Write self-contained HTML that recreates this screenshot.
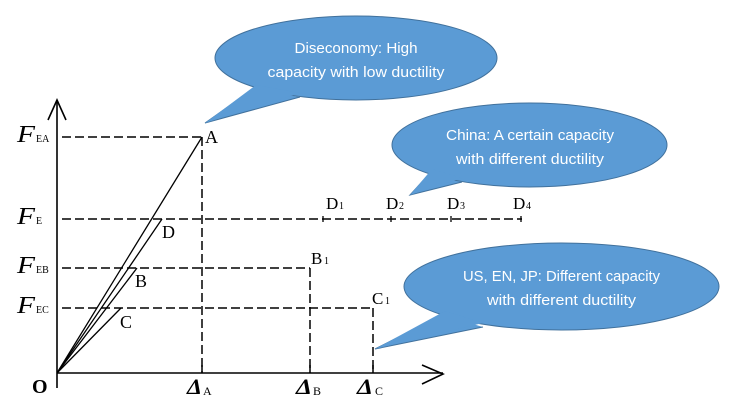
<!DOCTYPE html>
<html><head><meta charset="utf-8"><style>
html,body{margin:0;padding:0;background:#fff;}
svg{display:block;}
.s{font-family:"Liberation Serif",serif;fill:#000;}
.b{font-family:"Liberation Sans","Noto Sans CJK SC",sans-serif;fill:#fff;font-size:15px;}
</style></head><body>
<svg width="729" height="410" viewBox="0 0 729 410" xmlns="http://www.w3.org/2000/svg">
<rect width="729" height="410" fill="#fff"/>
<!-- axes -->
<g stroke="#000" stroke-width="1.6" fill="none">
<line x1="57" y1="100" x2="57" y2="388"/>
<line x1="57" y1="373" x2="443" y2="373"/>
<polyline points="48,120 57,100 66,120"/>
<polyline points="422,365 443,374 422,384"/>
</g>
<!-- dashed -->
<g stroke="#000" stroke-width="1.5" fill="none" stroke-dasharray="9,4">
<line x1="62" y1="137" x2="202" y2="137"/>
<line x1="202" y1="137" x2="202" y2="373"/>
<line x1="62" y1="219" x2="522" y2="219"/>
<line x1="62" y1="268" x2="310" y2="268"/>
<line x1="310" y1="268" x2="310" y2="373"/>
<line x1="62" y1="308" x2="373" y2="308"/>
<line x1="373" y1="308" x2="373" y2="373"/>
</g>
<g stroke="#000" stroke-width="1.3">
<line x1="323" y1="216" x2="323" y2="222"/>
<line x1="391" y1="216" x2="391" y2="222"/>
<line x1="451" y1="216" x2="451" y2="222"/>
<line x1="521" y1="216" x2="521" y2="222"/>
</g>
<g stroke="#000" stroke-width="1.5">
<line x1="202" y1="365" x2="202" y2="373"/>
<line x1="310" y1="365" x2="310" y2="373"/>
<line x1="373" y1="365" x2="373" y2="373"/>
</g>
<!-- rays -->
<g stroke="#000" stroke-width="1.3" fill="none">
<line x1="57" y1="373" x2="202" y2="137"/>
<line x1="57" y1="373" x2="162" y2="219"/>
<line x1="57" y1="373" x2="137" y2="268"/>
<line x1="57" y1="373" x2="121" y2="308"/>
</g>
<!-- labels -->
<g class="s">
<text x="205" y="143" font-size="18">A</text>
<text x="162" y="238" font-size="18">D</text>
<text x="135" y="287" font-size="18">B</text>
<text x="120" y="328" font-size="18">C</text>
<text x="32" y="393" font-size="20" font-weight="bold">O</text>
<text x="17" y="142" font-size="24" font-style="italic" textLength="18" lengthAdjust="spacingAndGlyphs">F</text><text x="36" y="142" font-size="10">EA</text>
<text x="17" y="224" font-size="24" font-style="italic" textLength="18" lengthAdjust="spacingAndGlyphs">F</text><text x="36" y="224" font-size="10">E</text>
<text x="17" y="273" font-size="24" font-style="italic" textLength="18" lengthAdjust="spacingAndGlyphs">F</text><text x="36" y="273" font-size="10">EB</text>
<text x="17" y="313" font-size="24" font-style="italic" textLength="18" lengthAdjust="spacingAndGlyphs">F</text><text x="36" y="313" font-size="10">EC</text>
<text x="187" y="394" font-size="22" font-style="italic" font-weight="bold" textLength="15" lengthAdjust="spacingAndGlyphs">Δ</text><text x="203" y="395" font-size="12">A</text>
<text x="296" y="394" font-size="22" font-style="italic" font-weight="bold" textLength="16" lengthAdjust="spacingAndGlyphs">Δ</text><text x="313" y="395" font-size="12">B</text>
<text x="357" y="394" font-size="22" font-style="italic" font-weight="bold" textLength="16" lengthAdjust="spacingAndGlyphs">Δ</text><text x="375" y="395" font-size="12">C</text>
<text x="326" y="209" font-size="17">D</text><text x="339" y="209" font-size="10">1</text>
<text x="386" y="209" font-size="17">D</text><text x="399" y="209" font-size="10">2</text>
<text x="447" y="209" font-size="17">D</text><text x="460" y="209" font-size="10">3</text>
<text x="513" y="209" font-size="17">D</text><text x="526" y="209" font-size="10">4</text>
<text x="311" y="264" font-size="17">B</text><text x="324" y="264" font-size="10">1</text>
<text x="372" y="304" font-size="17">C</text><text x="385" y="304" font-size="10">1</text>
</g>
<!-- callouts -->
<g fill="#5B9BD5" stroke="#41719C" stroke-width="1">
<path d="M253,89 L205,123 L300,97"/>
<ellipse cx="356" cy="58" rx="141" ry="42"/>
<path d="M256,85 L205,123 L300,93 Z" stroke="none"/>
<path d="M430,173 L410,195 L462,182"/>
<ellipse cx="529.5" cy="145" rx="137.5" ry="42"/>
<path d="M432,169 L410,195 L462,178 Z" stroke="none"/>
<path d="M442,315 L375,349 L483,327"/>
<ellipse cx="561.5" cy="286.5" rx="157.5" ry="43.5"/>
<path d="M445,311 L375,349 L483,323 Z" stroke="none"/>
</g>
<g class="b" text-anchor="middle">
<text x="356" y="53" textLength="123" lengthAdjust="spacingAndGlyphs">Diseconomy: High</text>
<text x="356" y="77" textLength="177" lengthAdjust="spacingAndGlyphs">capacity with low ductility</text>
<text x="530" y="140" textLength="168" lengthAdjust="spacingAndGlyphs">China: A certain capacity</text>
<text x="530" y="164" textLength="148" lengthAdjust="spacingAndGlyphs">with different ductility</text>
<text x="561.5" y="281" textLength="197" lengthAdjust="spacingAndGlyphs">US, EN, JP: Different capacity</text>
<text x="561.5" y="305" textLength="149" lengthAdjust="spacingAndGlyphs">with different ductility</text>
</g>
</svg>
</body></html>
